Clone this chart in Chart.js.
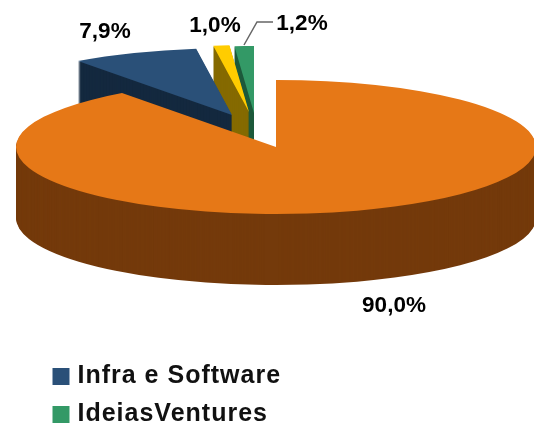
<!DOCTYPE html>
<html>
<head>
<meta charset="utf-8">
<title>Pie 3D</title>
<script src="https://cdn.jsdelivr.net/npm/chart.js@4"></script>
<style>
    html, body { margin: 0; padding: 0; background: #fff; }
    canvas { display: block; }
</style>
</head>
<body>
<canvas id="pieChart" width="534" height="423"></canvas>
<script>
(() => {

    // --------- Data ---------
    const categories = ["", "Infra e Software", "", "IdeiasVentures"];
    const values = [90.0, 7.9, 1.0, 1.2];

    const topColors = ["#E67817", "#2A5078", "#FFCC00", "#339966"];
    const wallColors = ["#743A0B", "#14293F", "#856A00", "#1E5A3C"];

    // ellipse of the pie on screen
    const pieCenterX = 276;
    const pieCenterY = 147;
    const pieRadiusX = 260;
    const pieRadiusY = 67;
    const pieDepth = 71;

    // how far each slice is pulled out of the pie, on screen
    const explodeX = [0, -44, -27, -22];
    const explodeY = [0, -32, -35, -34];

    // back slices first, the big one last
    const drawOrder = [3, 2, 1, 0];

    const labelFont = "bold 22.5px 'Liberation Sans', Arial, sans-serif";
    const labelX = [394, 105, 215, 302];
    const labelY = [306, 32, 26, 24];

    const fmt = v => v.toFixed(1).replace(".", ",") + "%";

    // --------- 3D look: squash the arcs and stack them for the wall ---------
    const pie3d = {
        id: "pie3d",
        beforeLayout(chart) {
            chart.ctx.letterSpacing = "1px"; // legend text is spaced out, also when measured
        },
        beforeDraw(chart) {
            chart.ctx.letterSpacing = "1px";
        },
        beforeDatasetsDraw(chart) {
            const ctx = chart.ctx;
            const arcs = chart.getDatasetMeta(0).data;
            ctx.letterSpacing = "0px";

            const place = (arc, i, drop) => {
                ctx.translate(pieCenterX + explodeX[i], pieCenterY + explodeY[i] + drop);
                ctx.scale(pieRadiusX / arc.outerRadius, pieRadiusY / arc.outerRadius);
                ctx.translate(-arc.x, -arc.y);
            };

            drawOrder.forEach(i => {
                const arc = arcs[i];
                const topOptions = arc.options;

                arc.options = { ...topOptions, backgroundColor: wallColors[i] };
                for (let drop = pieDepth; drop > 0; drop--) {
                    ctx.save();
                    place(arc, i, drop);
                    arc.draw(ctx);
                    ctx.restore();
                }
                arc.options = topOptions;

                ctx.save();
                place(arc, i, 0);
                arc.draw(ctx);
                ctx.restore();
            });

            return false;
        },
        afterDraw(chart) {
            const ctx = chart.ctx;
            ctx.save();
            ctx.letterSpacing = "0px";

            // leader line of the 1,2% label
            ctx.strokeStyle = "#666";
            ctx.lineWidth = 1.5;
            ctx.beginPath();
            ctx.moveTo(244, 45);
            ctx.lineTo(257, 22);
            ctx.lineTo(273, 22);
            ctx.stroke();

            ctx.font = labelFont;
            ctx.fillStyle = "#000";
            ctx.textAlign = "center";
            ctx.textBaseline = "middle";
            values.forEach((v, i) => ctx.fillText(fmt(v), labelX[i], labelY[i]));
            ctx.restore();
        }
    };

    new Chart(document.getElementById("pieChart"), {
        type: "pie",
        data: {
            labels: categories,
            datasets: [{
                data: values,
                backgroundColor: topColors,
                borderWidth: 0
            }]
        },
        options: {
            responsive: false,
            animation: false,
            events: [],
            layout: { padding: { left: 44, bottom: -17 } },
            plugins: {
                tooltip: { enabled: false },
                legend: {
                    display: true,
                    position: "left",
                    align: "end",
                    labels: {
                        usePointStyle: true,
                        pointStyle: "rect",
                        boxWidth: 8,
                        boxHeight: 17,
                        padding: 13,
                        color: "#111",
                        font: { family: "'Liberation Sans', Arial, sans-serif", size: 25, weight: "bold" },
                        filter: item => item.text !== ""
                    }
                }
            }
        },
        plugins: [pie3d]
    });

})();
</script>
</body>
</html>
